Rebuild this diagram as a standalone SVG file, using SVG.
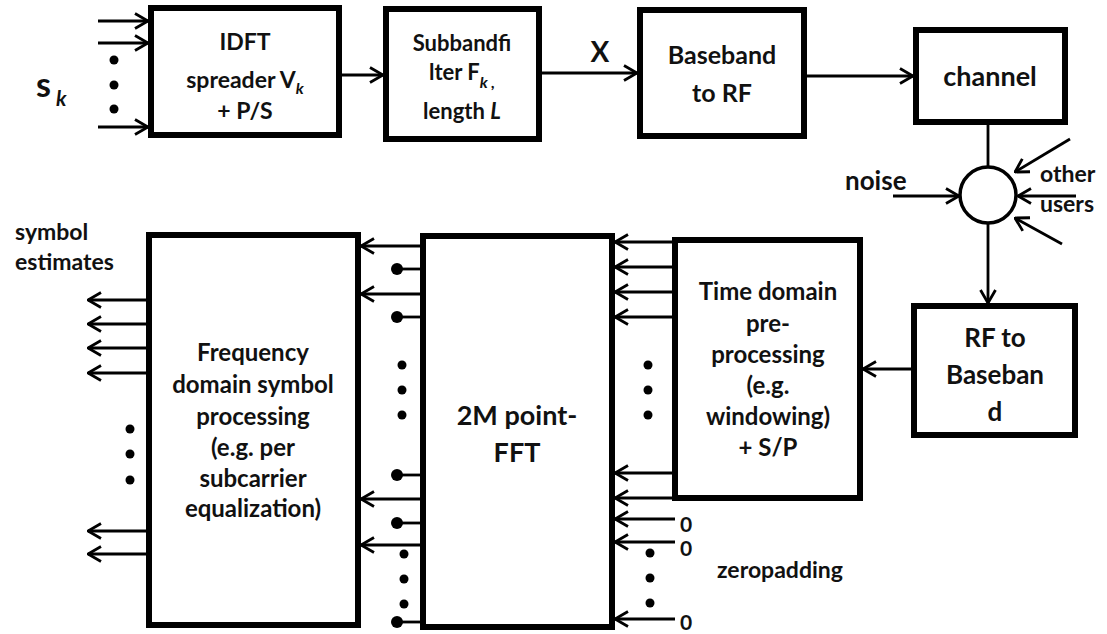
<svg xmlns="http://www.w3.org/2000/svg" width="1107" height="634" viewBox="0 0 1107 634">
<style>
.box{fill:#fff;stroke:#000;stroke-width:6}
.ln{fill:none;stroke:#000;stroke-width:2.8}
.ar{fill:none;stroke:#000;stroke-width:2.8;marker-end:url(#ah)}
.t{font-family:Lato,"Liberation Sans",sans-serif;font-weight:bold;font-size:24px;fill:#111;text-anchor:middle}
.tl{font-family:Lato,"Liberation Sans",sans-serif;font-weight:bold;font-size:23px;fill:#111}
.z{font-family:Lato,"Liberation Sans",sans-serif;font-weight:bold;font-size:21px;fill:#111}
.sub{font-size:16px;font-style:italic}
.dot{fill:#000}
</style>
<defs>
<marker id="ah" viewBox="0 0 16 18" refX="15" refY="9" markerWidth="16" markerHeight="18" markerUnits="userSpaceOnUse" orient="auto">
<path d="M2,1.5 L15,9 L2,16.5" fill="none" stroke="#000" stroke-width="2.8"/>
</marker>
</defs>
<g id="connectors">
<line class="ar" x1="98" y1="21" x2="148" y2="21"/>
<line class="ar" x1="98" y1="43" x2="148" y2="43"/>
<line class="ar" x1="98" y1="127" x2="148" y2="127"/>
<circle class="dot" cx="114" cy="60" r="4.5"/>
<circle class="dot" cx="114" cy="85" r="4.5"/>
<circle class="dot" cx="114" cy="109" r="4.5"/>
<line class="ar" x1="342" y1="75" x2="383" y2="75"/>
<line class="ar" x1="542" y1="73" x2="637" y2="73"/>
<line class="ar" x1="807" y1="76" x2="913" y2="76"/>
<line class="ln" x1="988" y1="125" x2="988" y2="167"/>
<line class="ar" x1="893" y1="196" x2="959" y2="196"/>
<line class="ar" x1="1070" y1="139" x2="1015" y2="172"/>
<line class="ar" x1="1076" y1="196" x2="1018" y2="196"/>
<line class="ar" x1="1062" y1="244" x2="1015" y2="218"/>
<line class="ar" x1="988" y1="223" x2="988" y2="303"/>
<line class="ar" x1="911" y1="369" x2="863" y2="369"/>
<line class="ar" x1="672" y1="242" x2="615" y2="242"/>
<line class="ar" x1="672" y1="267" x2="615" y2="267"/>
<line class="ar" x1="672" y1="292" x2="615" y2="292"/>
<line class="ar" x1="672" y1="317" x2="615" y2="317"/>
<circle class="dot" cx="648" cy="365" r="4.5"/>
<circle class="dot" cx="648" cy="390" r="4.5"/>
<circle class="dot" cx="648" cy="415" r="4.5"/>
<line class="ar" x1="672" y1="473" x2="615" y2="473"/>
<line class="ar" x1="672" y1="498" x2="615" y2="498"/>
<line class="ar" x1="675" y1="519" x2="615" y2="519"/>
<line class="ar" x1="675" y1="542" x2="615" y2="542"/>
<line class="ar" x1="675" y1="619" x2="615" y2="619"/>
<circle class="dot" cx="650" cy="553" r="4.5"/>
<circle class="dot" cx="650" cy="578" r="4.5"/>
<circle class="dot" cx="650" cy="603" r="4.5"/>
<line class="ar" x1="420" y1="246" x2="361" y2="246"/>
<line class="ar" x1="420" y1="294" x2="361" y2="294"/>
<line class="ar" x1="420" y1="499" x2="361" y2="499"/>
<line class="ar" x1="420" y1="545" x2="361" y2="545"/>
<line class="ln" x1="397" y1="269" x2="420" y2="269"/>
<line class="ln" x1="397" y1="317" x2="420" y2="317"/>
<line class="ln" x1="397" y1="475" x2="420" y2="475"/>
<line class="ln" x1="397" y1="523" x2="420" y2="523"/>
<line class="ln" x1="397" y1="622" x2="420" y2="622"/>
<circle class="dot" cx="397" cy="269" r="6"/>
<circle class="dot" cx="397" cy="317" r="6"/>
<circle class="dot" cx="397" cy="475" r="6"/>
<circle class="dot" cx="397" cy="523" r="6"/>
<circle class="dot" cx="397" cy="622" r="6"/>
<circle class="dot" cx="402" cy="365" r="4.5"/>
<circle class="dot" cx="402" cy="390" r="4.5"/>
<circle class="dot" cx="402" cy="415" r="4.5"/>
<circle class="dot" cx="404" cy="554" r="4.5"/>
<circle class="dot" cx="404" cy="579" r="4.5"/>
<circle class="dot" cx="404" cy="604" r="4.5"/>
<line class="ar" x1="146" y1="300" x2="88" y2="300"/>
<line class="ar" x1="146" y1="324" x2="88" y2="324"/>
<line class="ar" x1="146" y1="348" x2="88" y2="348"/>
<line class="ar" x1="146" y1="373" x2="88" y2="373"/>
<line class="ar" x1="146" y1="531" x2="88" y2="531"/>
<line class="ar" x1="146" y1="554" x2="88" y2="554"/>
<circle class="dot" cx="130" cy="429" r="4.5"/>
<circle class="dot" cx="130" cy="454" r="4.5"/>
<circle class="dot" cx="130" cy="480" r="4.5"/>
</g>
<g id="sk">
<text class="tl" x="36" y="97" style="font-size:34px">s</text>
<text class="tl" x="56" y="106" style="font-size:21px;font-style:italic">k</text>
</g>
<g id="idft">
<rect class="box" x="151" y="8" width="188" height="127"/>
<text class="t" x="245" y="50" style="font-size:23px">IDFT</text>
<text class="t" x="245" y="88" style="font-size:23px">spreader V<tspan class="sub" dy="6">k</tspan></text>
<text class="t" x="245" y="119" style="font-size:23px">+ P/S</text>
</g>
<g id="subband">
<rect class="box" x="386" y="9" width="153" height="130"/>
<text class="t" x="462" y="51" style="font-size:22px">Subbandfi</text>
<text class="t" x="462" y="80" style="font-size:22px">lter F<tspan class="sub" dy="8">k ,</tspan></text>
<text class="t" x="462" y="119" style="font-size:22px">length <tspan font-style="italic">L</tspan></text>
</g>
<text class="t" x="600" y="62" style="font-size:28px">X</text>
<g id="baseband">
<rect class="box" x="640" y="10" width="164" height="126"/>
<text class="t" x="722" y="64" style="font-size:25px">Baseband</text>
<text class="t" x="722" y="102" style="font-size:25px">to RF</text>
</g>
<g id="channel">
<rect class="box" x="916" y="30" width="149" height="92"/>
<text class="t" x="990" y="86" style="font-size:27px">channel</text>
</g>
<g id="sum">
<circle cx="988" cy="195" r="28" fill="#fff" stroke="#000" stroke-width="3.5"/>
</g>
<text class="tl" x="845" y="190" style="font-size:26px">noise</text>
<text class="tl" x="1040" y="182">other</text>
<text class="tl" x="1040" y="212">users</text>
<g id="rf2bb">
<rect class="box" x="914" y="306" width="161" height="129"/>
<text class="t" x="995" y="347" style="font-size:26px">RF to</text>
<text class="t" x="995" y="384" style="font-size:26px">Baseban</text>
<text class="t" x="995" y="421" style="font-size:26px">d</text>
</g>
<g id="timedomain">
<rect class="box" x="675" y="240" width="185" height="258"/>
<text class="t" x="768" y="300">Time domain</text>
<text class="t" x="768" y="332">pre-</text>
<text class="t" x="768" y="363">processing</text>
<text class="t" x="768" y="394">(e.g.</text>
<text class="t" x="768" y="425">windowing)</text>
<text class="t" x="768" y="456">+ S/P</text>
</g>
<g id="fft">
<rect class="box" x="423" y="236" width="189" height="391"/>
<text class="t" x="517" y="425" style="font-size:27px">2M point-</text>
<text class="t" x="517" y="462" style="font-size:27px">FFT</text>
</g>
<g id="freq">
<rect class="box" x="149" y="235" width="209" height="390"/>
<text class="t" x="253" y="361">Frequency</text>
<text class="t" x="253" y="393">domain symbol</text>
<text class="t" x="253" y="425">processing</text>
<text class="t" x="253" y="456">(e.g. per</text>
<text class="t" x="253" y="487">subcarrier</text>
<text class="t" x="253" y="517">equalization)</text>
</g>
<text class="tl" x="15" y="240">symbol</text>
<text class="tl" x="15" y="270">estimates</text>
<text class="z" x="680" y="532">0</text>
<text class="z" x="680" y="556">0</text>
<text class="z" x="680" y="630">0</text>
<text class="tl" x="717" y="578">zeropadding</text>
</svg>
